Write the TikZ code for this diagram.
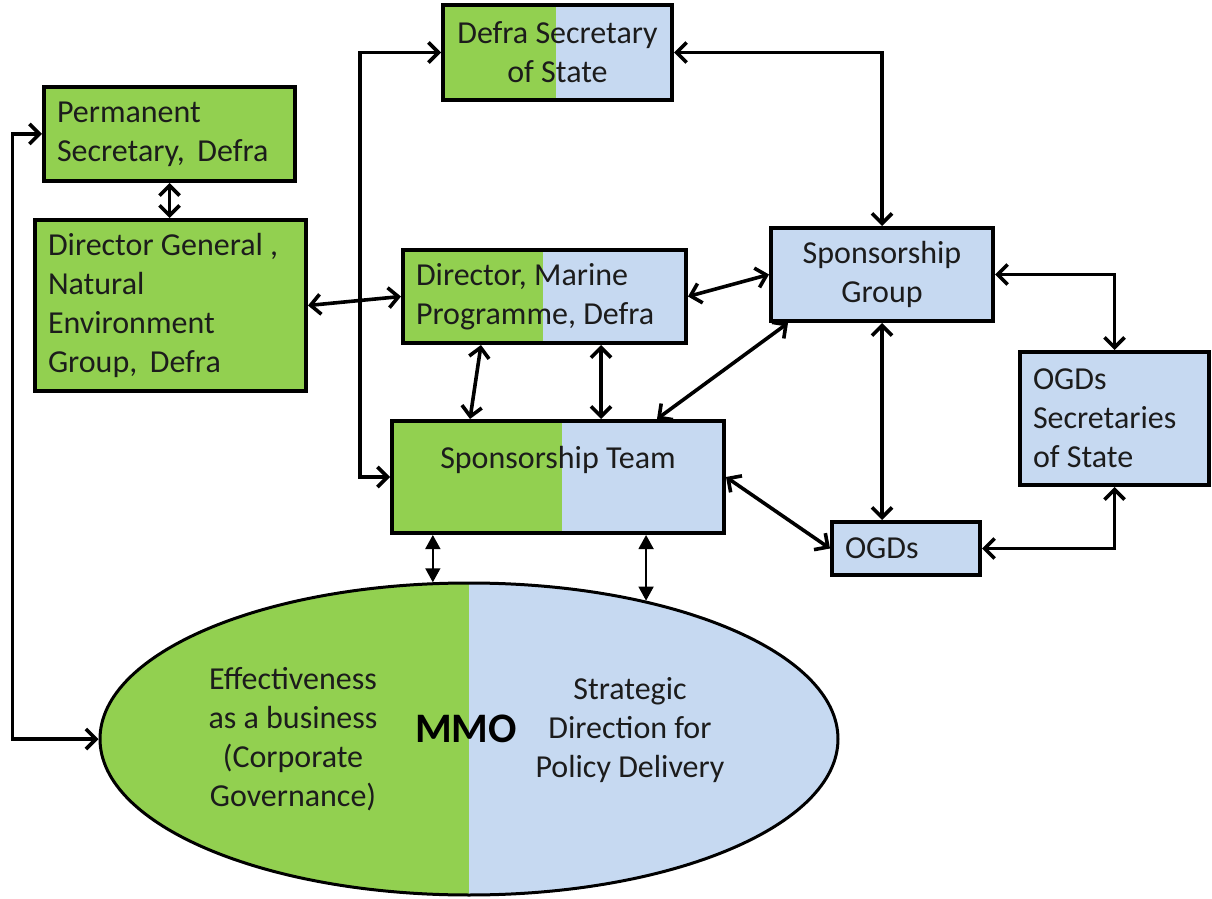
\documentclass[tikz,border=0pt]{standalone}
\usepackage{fontspec}
\setmainfont{Carlito}
\usepackage{tikz}
\usepackage{xcolor}
\usetikzlibrary{positioning, arrows.meta, shapes.geometric}

\definecolor{mmgreen}{HTML}{92D050}
\definecolor{mmblue}{HTML}{C6D9F1}
\definecolor{mmtext}{HTML}{1C1C1C}

\tikzset{
  box/.style={draw=black, line width=2pt, fill=mmblue, text=mmtext, inner xsep=6.5pt, inner ysep=2pt, font=\fontsize{16}{19.5}\selectfont},
  greenbox/.style={box, fill=mmgreen},
  split/.style={path picture={\fill[mmgreen] (path picture bounding box.south west) rectangle ([xshift=#1]path picture bounding box.north west);}},
  link/.style={line width=1.8pt, {Straight Barb[length=5pt,width=10pt]}-{Straight Barb[length=5pt,width=10pt]}},
  thinlink/.style={line width=0.8pt, {Triangle[length=7pt,width=7.5pt]}-{Triangle[length=7pt,width=7.5pt]}},
  elltext/.style={align=center, text=mmtext, inner sep=0pt, font=\fontsize{16}{19.5}\selectfont}
}

\begin{document}
\begin{tikzpicture}[x=0.5pt, y=-0.5pt]
            \useasboundingbox (0, 0) rectangle (1212, 899);

            \node[greenbox, text width=112.5pt, minimum height=47pt, align=flush left] (permsec) at (169.5, 134) {Permanent\\Secretary,\, Defra};
            \node[greenbox, text width=122.5pt, minimum height=85.5pt, align=flush left] (dirgen) at (170.5, 305.5) {Director General ,\\Natural\\Environment\\Group,\, Defra};
            \node[box, split=56.5pt, minimum width=114.5pt, minimum height=47.5pt, align=center] (sos) at (557.5, 52.5) {Defra Secretary\\of State};
            \node[box, split=70pt, text width=128.5pt, minimum height=46.5pt, align=flush left] (marine) at (544.5, 296.5) {Director, Marine\\Programme, Defra};
            \node[box, minimum width=111pt, minimum height=46.5pt, align=center] (group) at (882, 274.5) {Sponsorship\\Group};
            \node[box, text width=81.5pt, minimum height=66.5pt, align=flush left] (ogdsos) at (1114.5, 418.5) {OGDs\\Secretaries\\of State};
            \node[box, split=85pt, minimum width=166pt, minimum height=56pt, text depth=20pt] (team) at (558, 477) {Sponsorship Team};
            \node[box, text width=61pt, minimum height=26.5pt, align=flush left] (ogds) at (906, 548.5) {OGDs};

            \node[ellipse, draw=black, line width=1.5pt, fill=mmblue, minimum width=369pt, minimum height=156pt, inner sep=0pt,
                  path picture={\fill[mmgreen] (path picture bounding box.south west) rectangle (path picture bounding box.north);}] (mmo) at (469, 739) {};
            \node[elltext] (business) at (293, 739.5) {Effectiveness\\as a business\\(Corporate\\Governance)};
            \node[elltext] (policy) at (630, 730) {Strategic\\Direction for\\Policy Delivery};
            \node[elltext, text=black, font=\fontsize{21}{25}\selectfont\bfseries] (mmoname) at (466, 729) {MMO};

            \draw[link] (permsec.south) -- (permsec.south |- dirgen.north);
            \draw[link] (dirgen.east) -- (marine.west);
            \draw[link] (mmo.west) -- ++(-86, 0) |- (permsec.west);
            \draw[link] (sos.west) -- ++(-81, 0) |- (team.west);
            \draw[link] (sos.east) -| (group.north);
            \draw[link] (marine.east) -- (group.west);
            \draw[link] ([xshift=40pt]marine.south west) -- ([xshift=40pt]team.north west);
            \draw[link] ([xshift=100pt]marine.south west) -- ([xshift=105.5pt]team.north west);
            \draw[link] ([xshift=9.5pt]group.south west) -- ([xshift=-34.5pt]team.north east);
            \draw[link] (group.south) -- (group.south |- ogds.north);
            \draw[link] (group.east) -| (ogdsos.north);
            \draw[link] (ogds.east) -| (ogdsos.south);
            \draw[link] (team.east) -- (ogds.west);
            \draw[thinlink] (mmo.103) -- (mmo.103 |- team.south);
            \draw[thinlink] (mmo.38) -- (mmo.38 |- team.south);
        \end{tikzpicture}
\end{document}
